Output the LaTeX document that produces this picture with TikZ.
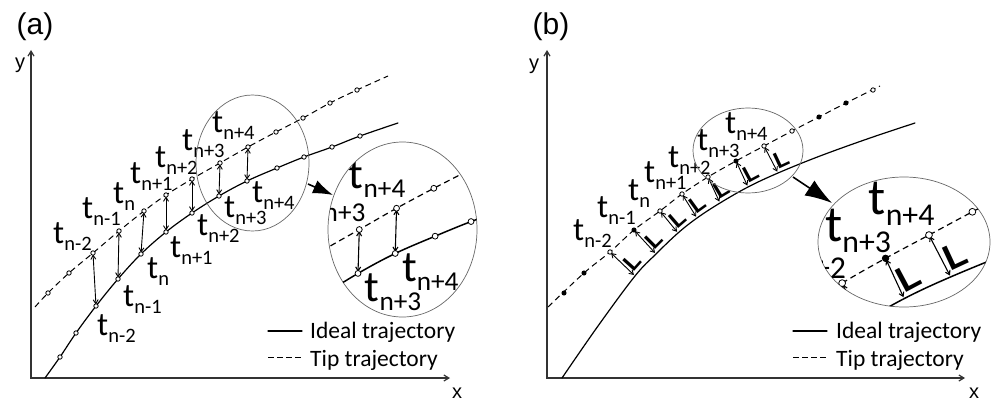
\documentclass[tikz,border=0pt]{standalone}
\usepackage{fontspec}
\setmainfont{Carlito}
\newfontfamily\arialfont{Liberation Sans}
\usetikzlibrary{arrows.meta}
\newcommand\tsub[1]{t\raisebox{-7pt}{\fontsize{20.5}{20.5}\selectfont #1}}
\tikzset{
 idealline/.style={line width=1.2pt, line cap=round},
 tipline/.style={line width=1pt, dash pattern=on 6pt off 4pt},
 mkdot/.style={line width=0.8pt, fill=white},
 mkfill/.style={line width=0.8pt, fill=black},
 darrow/.style={line width=0.9pt, {Straight Barb[length=4pt,width=5pt]}-{Straight Barb[length=4pt,width=5pt]}, shorten <=1.5pt, shorten >=1.5pt},
 tlab/.style={anchor=base west, inner sep=0pt, font=\fontsize{33}{35}\selectfont},
 lmark/.style={anchor=south west, inner xsep=1.5pt, inner ysep=3pt, font=\arialfont\bfseries\fontsize{23}{23}\selectfont},
 lens/.style={draw=black!60, line width=0.7pt},
 axisline/.style={draw=black!80, line width=1.2pt, {Straight Barb[length=5pt,width=6pt]}-{Straight Barb[length=5pt,width=6pt]}},
 zoomarrow/.style={line width=1.6pt, -{Latex[length=20pt,width=14pt]}},
 legtext/.style={anchor=base west, inner sep=0pt, font=\fontsize{23.5}{26}\selectfont},
 axlab/.style={inner sep=0pt, font=\arialfont\fontsize{20}{20}\selectfont},
 panlab/.style={inner sep=0pt, font=\arialfont\fontsize{30}{30}\selectfont},
}
\newcommand\geomA{%
 \foreach \nm/\px/\py in {I0/45/378, I1/60/357, I2/76/333, I3/96/306, I4/118/279, I5/141/254, I6/166/232, I7/192/213, I8/219/196, I9/247/181, I10/277/168, I11/304/157, I12/332/147, I13/360/136, I14/398/123, T0/35/307, T1/48/293, T2/69/273, T3/93/253, T4/119/231, T5/144/211, T6/166/195, T7/192/179, T8/220/163, T9/248/147, T10/276/132, T11/303/118, T12/330/103, T13/357/90, T14/388/76}
  \coordinate (a\nm) at (\px,\py);
 \draw[idealline] plot[smooth, tension=0.6] coordinates {(aI0)(aI1)(aI2)(aI3)(aI4)(aI5)(aI6)(aI7)(aI8)(aI9)(aI10)(aI11)(aI12)(aI13)(aI14)};
 \draw[tipline] plot[smooth, tension=0.6] coordinates {(aT0)(aT1)(aT2)(aT3)(aT4)(aT5)(aT6)(aT7)(aT8)(aT9)(aT10)(aT11)(aT12)(aT13)(aT14)};
 \foreach \k in {3,...,9} \draw[darrow] (aT\k) -- (aI\k);
 \foreach \k in {1,...,13} {\draw[mkdot] (aI\k) circle[radius=2.2pt]; \draw[mkdot] (aT\k) circle[radius=2.2pt];}
}
\newcommand\labelsAlow{%
 \node[tlab] (aTL3) at (53,243) {\tsub{n-2}};
 \node[tlab] (aTL4) at (82,218) {\tsub{n-1}};
 \node[tlab] (aTL5) at (113,203) {\tsub{n}};
 \node[tlab] (aTL6) at (130,183) {\tsub{n+1}};
 \node[tlab] (aTL7) at (155,167) {\tsub{n+2}};
 \node[tlab] (aIL3) at (97,335) {\tsub{n-2}};
 \node[tlab] (aIL4) at (123,306) {\tsub{n-1}};
 \node[tlab] (aIL5) at (147,278) {\tsub{n}};
 \node[tlab] (aIL6) at (170,257) {\tsub{n+1}};
 \node[tlab] (aIL7) at (197,235) {\tsub{n+2}};
}
\newcommand\labelsAhigh{%
 \node[tlab] (aTL8) at (182,150) {\tsub{n+3}};
 \node[tlab] (aTL9) at (212,132) {\tsub{n+4}};
 \node[tlab] (aIL8) at (224,217) {\tsub{n+3}};
 \node[tlab] (aIL9) at (252,202) {\tsub{n+4}};
}
\newcommand\geomB{%
 \foreach \nm/\px/\py in {I0/562/378, I1/598/326, I3/635/276, I4/656/254, I5/678/233, I6/697/218, I7/720/203, I8/748/187, I9/778/173, I10/820/156, I11/870/138, I12/915/123, T0/548/307, T1/564/293, T2/584/273, T3/610/252, T4/634/230, T5/660/211, T6/682/194, T7/708/177, T8/736/161, T9/764/146, T10/792/131, T11/819/117, T12/846/103, T13/873/90, T14/880/86}
  \coordinate (b\nm) at (\px,\py);
 \draw[idealline] plot[smooth, tension=0.6] coordinates {(bI0)(bI1)(bI3)(bI4)(bI5)(bI6)(bI7)(bI8)(bI9)(bI10)(bI11)(bI12)};
 \draw[tipline] plot[smooth, tension=0.6] coordinates {(bT0)(bT2)(bT3)(bT4)(bT5)(bT6)(bT7)(bT8)(bT9)(bT10)(bT11)(bT12)(bT14)};
 \foreach \k in {3,...,9} \draw[darrow] (bT\k) -- (bI\k);
 \foreach \k in {1,2,4,8,11,12} \draw[mkfill] (bT\k) circle[radius=2.1pt];
 \foreach \k in {3,5,6,7,9,10,13} \draw[mkdot] (bT\k) circle[radius=2.2pt];
}
\newcommand\lmarksB[1]{%
 \foreach \k/\ang in {#1}
  \node[lmark, rotate=\ang] (bL\k) at (bI\k) {L};
}
\newcommand\labelsBlow{%
 \node[tlab] (bTL3) at (573,240) {\tsub{n-2}};
 \node[tlab] (bTL4) at (597,217) {\tsub{n-1}};
 \node[tlab] (bTL5) at (628,200) {\tsub{n}};
 \node[tlab] (bTL6) at (644,182) {\tsub{n+1}};
}
\newcommand\labelsBhigh{%
 \node[tlab] (bTL7) at (668,167) {\tsub{n+2}};
 \node[tlab] (bTL8) at (697,150) {\tsub{n+3}};
 \node[tlab] (bTL9) at (725,133) {\tsub{n+4}};
}
\begin{document}
\begin{tikzpicture}[x=1pt,y=-1pt]
\useasboundingbox (0,0) rectangle (992,404);
% ---------- panel (a)
\node[panlab] (labA) at (35,27) {(a)};
\coordinate (aYtop) at (31,50);
\coordinate (aXend) at (450,378);
\draw[axisline] (aYtop) |- (aXend);
\node[axlab] (ya) at (20,65.5) {y};
\node[axlab] (xa) at (457,393) {x};
\geomA
\labelsAlow
\labelsAhigh
\draw[lens] (252.5,163) ellipse [x radius=56.5pt, y radius=68pt];
\draw[lens] (402.5,229.5) ellipse [x radius=74.5pt, y radius=87.5pt];
\begin{scope}
 \clip (402.5,229.5) ellipse [x radius=74.5pt, y radius=87.5pt];
 \begin{scope}[shift={(402.5,229.5)}, scale=1.33, shift={(-252.5,-163)}, transform shape,
   idealline/.append style={line width=1.5pt}, tipline/.append style={line width=1.2pt},
   darrow/.append style={line width=1.1pt}]
  \geomA
  \labelsAhigh
 \end{scope}
\end{scope}
\coordinate (zA1) at (308,184);
\coordinate (zA2) at (333,195);
\draw[zoomarrow] (zA1) -- (zA2);
\coordinate (lgA1) at (268,331);
\coordinate (lgA2) at (302,331);
\coordinate (lgA3) at (268,357);
\coordinate (lgA4) at (302,357);
\draw[idealline] (lgA1) -- (lgA2);
\draw[tipline, dash pattern=on 6pt off 3pt] (lgA3) -- (lgA4);
\node[legtext] (ltA1) at (310,338) {Ideal trajectory};
\node[legtext] (ltA2) at (310,366) {Tip trajectory};
% ---------- panel (b)
\node[panlab] (labB) at (551,27) {(b)};
\coordinate (bYtop) at (547,50);
\coordinate (bXend) at (965,378);
\draw[axisline] (bYtop) |- (bXend);
\node[axlab] (yb) at (534,66) {y};
\node[axlab] (xb) at (974,393) {x};
\geomB
\lmarksB{3/48,4/45,5/41,6/36,7/31,8/28,9/25}
\labelsBlow
\labelsBhigh
\draw[lens] (748,150.5) ellipse [x radius=55pt, y radius=42.5pt];
\draw[lens] (904,242) ellipse [x radius=86pt, y radius=65pt];
\begin{scope}
 \clip (904,242) ellipse [x radius=86pt, y radius=65pt];
 \begin{scope}[shift={(904,242)}, scale=1.55, shift={(-748,-150.5)}, transform shape,
   idealline/.append style={line width=1.5pt}, tipline/.append style={line width=1.2pt},
   darrow/.append style={line width=1.1pt}]
  \geomB
  \lmarksB{8/28,9/25}
  \labelsBhigh
 \end{scope}
\end{scope}
\coordinate (zB1) at (793,177);
\coordinate (zB2) at (832,203);
\draw[zoomarrow, -{Latex[length=27pt,width=18pt]}] (zB1) -- (zB2);
\coordinate (lgB1) at (793,331);
\coordinate (lgB2) at (827,331);
\coordinate (lgB3) at (793,357);
\coordinate (lgB4) at (827,357);
\draw[idealline] (lgB1) -- (lgB2);
\draw[tipline, dash pattern=on 6pt off 3pt] (lgB3) -- (lgB4);
\node[legtext] (ltB1) at (836,338) {Ideal trajectory};
\node[legtext] (ltB2) at (836,366) {Tip trajectory};
\end{tikzpicture}
\end{document}
